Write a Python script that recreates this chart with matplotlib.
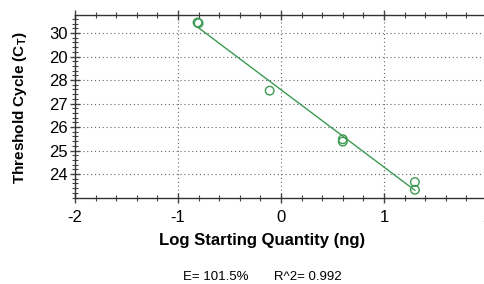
import numpy as np
import matplotlib.pyplot as plt
from matplotlib.ticker import MultipleLocator

plt.rcParams['font.family'] = ['Liberation Sans', 'DejaVu Sans']

# data
log_qty = [-0.81, -0.80, -0.11, 0.60, 0.60, 1.30, 1.30]
ct = [30.45, 30.42, 27.55, 25.48, 25.38, 23.66, 23.33]
y_ticks = [24, 25, 26, 27, 28, 29, 30]
y_tick_labels = ["24", "25", "26", "27", "28", "20", "30"]
x_ticks = [-2, -1, 0, 1, 2]
stats_text = "E= 101.5%       R^2= 0.992"

green = '#3c9a52'

fig = plt.figure(figsize=(4.85, 2.84), dpi=100)
ax = fig.add_axes([75 / 485, 1 - 198 / 284, (487 - 75) / 485, (198 - 15) / 284])

slope, icpt = np.polyfit(log_qty, ct, 1)
xs = np.array([min(log_qty), max(log_qty)])
ax.plot(xs, slope * xs + icpt, color=green, lw=1.0)
ax.scatter(log_qty, ct, s=38, facecolors='none', edgecolors=green, linewidths=1.0, zorder=3)

ax.set_xlim(-2, 2)
ax.set_ylim(22.98, 30.77)
ax.set_xticks(x_ticks)
ax.set_xticklabels([str(v) for v in x_ticks])
ax.set_yticks(y_ticks)
ax.set_yticklabels(y_tick_labels)
ax.xaxis.set_minor_locator(MultipleLocator(0.2))
ax.yaxis.set_minor_locator(MultipleLocator(0.2))
ax.grid(True, which='major', linestyle=(0, (1, 2.5)), color='#666666', lw=0.8)

ax.spines['right'].set_visible(False)
for s in ['left', 'top', 'bottom']:
    ax.spines[s].set_color('#333333')
    ax.spines[s].set_linewidth(1.0)

ax.tick_params(axis='both', which='major', direction='inout', length=7, width=1.0,
               color='#444444', labelsize=12, top=True, right=False, pad=2)
ax.tick_params(axis='both', which='minor', direction='inout', length=4, width=0.8,
               color='#444444', top=True, right=False)
ax.tick_params(axis='x', which='major', pad=5)

fig.text(20 / 485, 1 - 108 / 284, r"Threshold Cycle (C$_\mathregular{T}$)", rotation=90,
         ha='center', va='center', fontsize=11, fontweight='bold')
fig.text(262 / 485, 1 - 240 / 284, "Log Starting Quantity (ng)", ha='center', va='center',
         fontsize=12, fontweight='bold')
fig.text(262 / 485, 1 - 277 / 284, stats_text, ha='center', va='center', fontsize=9.5)

fig.savefig('out.png', dpi=100)
